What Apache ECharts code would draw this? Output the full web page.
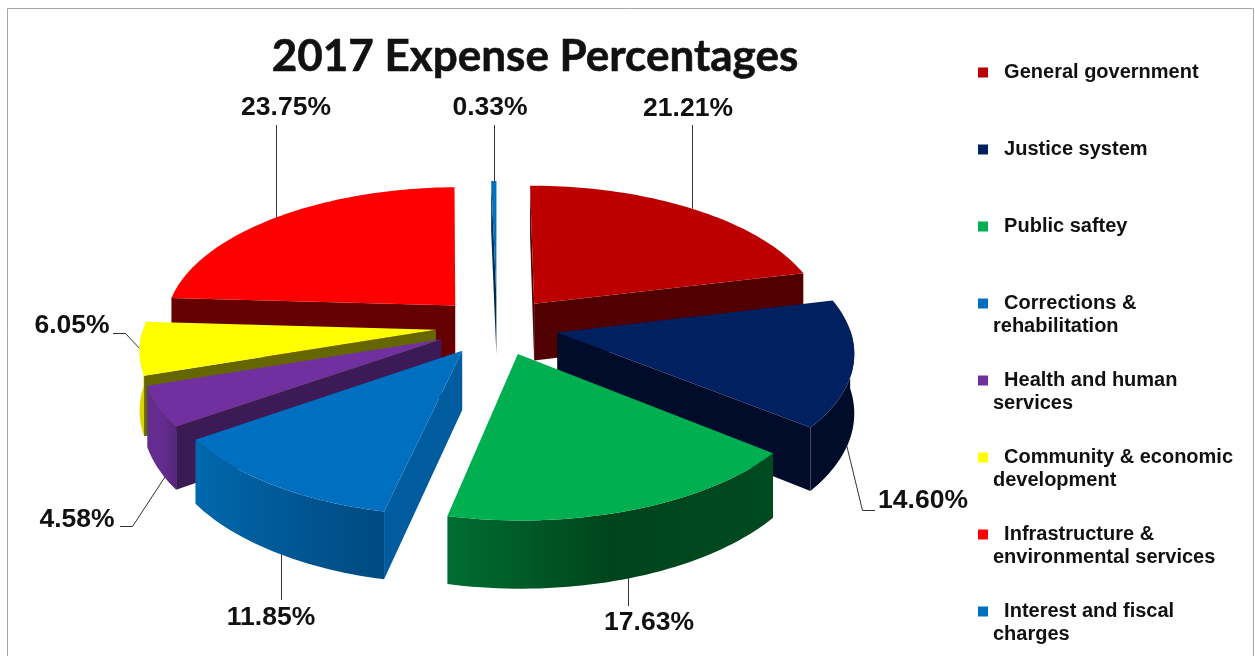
<!DOCTYPE html>
<html>
<head>
<meta charset="utf-8">
<title>2017 Expense Percentages</title>
<script src="https://cdn.jsdelivr.net/npm/echarts@6/dist/echarts.min.js"></script>
<style>
  html, body { margin: 0; padding: 0; background: #fff; overflow: hidden; }
  #chart { width: 1255px; height: 656px; }
</style>
</head>
<body>
<div id="chart"></div>
<script>
// Datos
const categories = [
    'General government', 'Justice system', 'Public saftey', 'Corrections &\nrehabilitation',
    'Health and human\nservices', 'Community & economic\ndevelopment',
    'Infrastructure &\nenvironmental services', 'Interest and fiscal\ncharges'
];
const percents = [21.21, 14.60, 17.63, 11.85, 4.58, 6.05, 23.75, 0.33];

// Colores: cara superior, corte y pared (izquierda, medio, derecha)
const topColors = ['#BC0000', '#002060', '#00AF50', '#006FC0', '#7030A0', '#FFFF00', '#FF0000', '#0070C0'];
const cutColors = ['#500000', '#000C2A', '#00441C', '#005C9E', '#3C1A55', '#666600', '#660000', '#00294A'];
const wallColors = [
    ['#500000', '#500000', '#500000'], ['#000C2A', '#000C2A', '#000C2A'],
    ['#006E31', '#00441C', '#004A20'], ['#0068AD', '#005795', '#004A80'],
    ['#652C90', '#652C90', '#55267A'], ['#D8D800', '#D8D800', '#D8D800'],
    ['#660000', '#660000', '#660000'], ['#00294A', '#00294A', '#00294A']
];
// Orden de dibujo, de atras hacia adelante
const drawOrder = [3, 4, 7, 8, 6, 5, 1, 2];

// Geometria del pastel en perspectiva
const CX = 497, CY = 326, RX = 292, RY = 138, PERSP = 0.125, DEPTH = 58, EXPLODE = 0.21;

// Posicion de etiquetas y lineas guia
const labelLayout = [
    { tx: 688, ty: 109, endY: 125 },
    { tx: 923, ty: 501, elbow: [862.5, 510.5], end: [875, 510.5], base: true },
    { tx: 649, ty: 623, endY: 606, base: true },
    { tx: 271, ty: 618, endY: 600, base: true },
    { tx: 77, ty: 520, elbow: [132.5, 526.5], end: [120, 526.5], base: true },
    { tx: 72, ty: 326, elbow: [125.5, 333.5], end: [113, 333.5] },
    { tx: 286, ty: 108, endY: 125 },
    { tx: 490, ty: 108, endY: 125 }
];

const total = percents.reduce((a, b) => a + b, 0);

// Angulos de inicio y fin de cada rebanada
const slices = [];
let acumulado = 0;
percents.forEach(function (p) {
    const a0 = acumulado / total * Math.PI * 2;
    acumulado += p;
    slices.push({ a0: a0, a1: acumulado / total * Math.PI * 2 });
});

// Proyecta un punto del disco a la pantalla
function project(s, ang, r, drop) {
    const mid = (s.a0 + s.a1) / 2;
    const X = EXPLODE * Math.sin(mid) + r * Math.sin(ang);
    const Y = EXPLODE * Math.cos(mid) + r * Math.cos(ang);
    const k = 1 / (1 + PERSP * Y);
    return [CX + RX * X * k, CY - RY * Y * k + (drop ? DEPTH * k : 0)];
}

function poly(points, fill) {
    return {
        type: 'polygon',
        shape: { points: points },
        style: { fill: fill }
    };
}

function cutFace(s, ang, color) {
    return poly([
        project(s, ang, 0, false), project(s, ang, 1, false),
        project(s, ang, 1, true), project(s, ang, 0, true)
    ], color);
}

function wallFace(s, i, pasos) {
    const arriba = [], abajo = [];
    for (let n = 0; n <= pasos; n++) {
        const b = s.a0 + (s.a1 - s.a0) * n / pasos;
        if (Math.cos(b) > 0.02) continue;
        arriba.push(project(s, b, 1, false));
        abajo.unshift(project(s, b, 1, true));
    }
    if (arriba.length < 2) return null;
    const xs = arriba.map(p => p[0]);
    const relleno = new echarts.graphic.LinearGradient(
        Math.min(...xs), 0, Math.max(...xs), 0,
        [
            { offset: 0, color: wallColors[i][0] },
            { offset: 0.5, color: wallColors[i][1] },
            { offset: 1, color: wallColors[i][2] }
        ],
        true
    );
    return poly(arriba.concat(abajo), relleno);
}

function renderSlice(i) {
    const s = slices[i];
    const children = [];
    const pasos = Math.max(2, Math.ceil((s.a1 - s.a0) * 40));

    // Linea guia primero, para que quede detras de la rebanada
    const lay = labelLayout[i];
    const midAng = (s.a0 + s.a1) / 2;
    const anchor = project(s, midAng, 1, !!lay.base);
    if (lay.base) anchor[0] = project(s, midAng, 0.96, true)[0];
    const xGuia = Math.round(anchor[0]) + 0.5;
    const guide = lay.elbow ? [anchor, lay.elbow, lay.end] : [[xGuia, anchor[1]], [xGuia, lay.endY]];
    children.push({
        type: 'polyline',
        shape: { points: guide },
        style: { stroke: '#333', lineWidth: 1, fill: 'none' }
    });

    // Caras de corte visibles
    if (Math.sin(s.a0) <= 0) children.push(cutFace(s, s.a0, cutColors[i]));
    if (Math.sin(s.a1) > 0) children.push(cutFace(s, s.a1, cutColors[i]));

    // Pared exterior, solo la parte frontal
    const pared = wallFace(s, i, pasos);
    if (pared) children.push(pared);

    // Cara superior
    const top = [project(s, s.a0, 0, false)];
    for (let n = 0; n <= pasos; n++) {
        top.push(project(s, s.a0 + (s.a1 - s.a0) * n / pasos, 1, false));
    }
    children.push(poly(top, topColors[i]));

    // Etiqueta
    children.push({
        type: 'text',
        x: lay.tx,
        y: lay.ty,
        style: {
            text: percents[i].toFixed(2) + '%',
            fill: '#111',
            font: 'bold 26.5px "Liberation Sans", Arial, sans-serif',
            align: 'center',
            verticalAlign: 'middle'
        }
    });
    return { type: 'group', children: children };
}

const chart = echarts.init(document.getElementById('chart'), null, { renderer: 'canvas' });

chart.setOption({
    animation: false,
    backgroundColor: '#fff',
    title: {
        text: '2017 Expense Percentages',
        left: 530,
        top: 30,
        textAlign: 'center',
        textStyle: {
            fontFamily: 'Lato',
            fontWeight: 'bold',
            fontSize: 44,
            color: '#111',
            textBorderColor: '#111',
            textBorderWidth: 0.6
        }
    },
    legend: {
        orient: 'vertical',
        left: 978,
        top: 38,
        padding: 0,
        itemGap: 8,
        itemWidth: 10,
        itemHeight: 10,
        icon: 'rect',
        data: categories,
        selectedMode: false,
        // Tres lineas por entrada: asi la marca queda a la altura de la primera
        formatter: function (name) {
            const partes = name.split('\n');
            return '\n  ' + partes[0] + '\n' + (partes[1] || '');
        },
        textStyle: {
            fontFamily: 'Liberation Sans',
            fontWeight: 'bold',
            fontSize: 20,
            lineHeight: 23,
            color: '#111'
        }
    },
    graphic: [{
        type: 'polyline',
        silent: true,
        shape: { points: [[7.5, 670], [7.5, 8.5], [1253.5, 8.5], [1253.5, 670]] },
        style: { stroke: '#A6A6A6', lineWidth: 1, fill: 'none' }
    }],
    series: categories.map(function (name, i) {
        return {
            type: 'custom',
            name: name,
            coordinateSystem: 'none',
            silent: true,
            z: drawOrder[i],
            itemStyle: { color: topColors[i] },
            data: [percents[i]],
            renderItem: function () {
                return renderSlice(i);
            }
        };
    })
});
</script>
</body>
</html>
